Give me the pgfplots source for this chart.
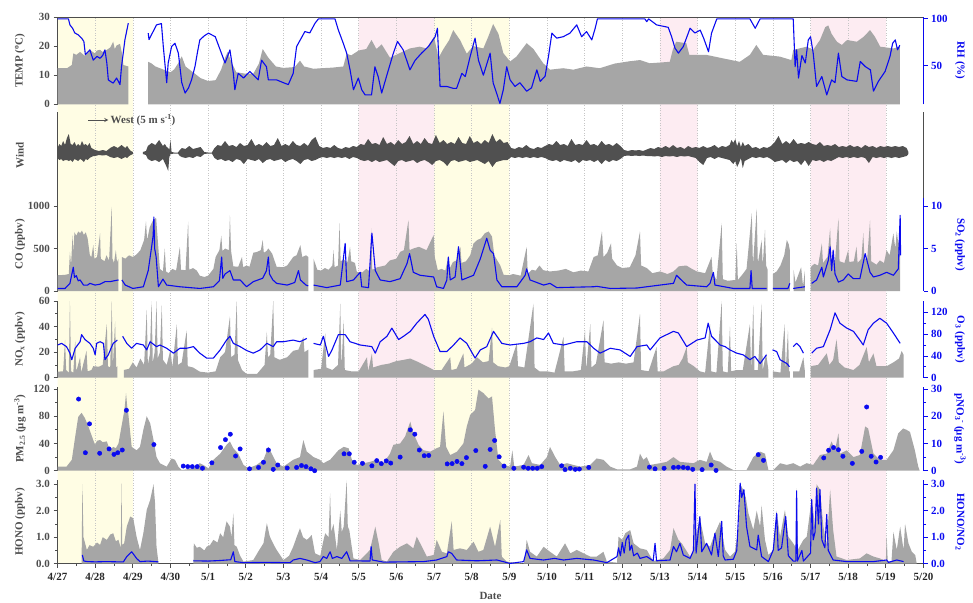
\documentclass[border=0pt]{standalone}
\usepackage{fontspec}
\setmainfont{Liberation Serif}
\usepackage{pgfplots}
\usepackage{pgfplotstable}
\pgfplotsset{compat=1.18}
\definecolor{axg}{HTML}{4D4D4D}
\definecolor{areag}{HTML}{A6A6A6}
\definecolor{windg}{HTML}{505050}
\definecolor{myblue}{HTML}{0A0AF0}
\definecolor{ysh}{HTML}{FFFDE4}
\definecolor{psh}{HTML}{FDECF2}
\newcommand{\fs}{\bfseries\fontsize{11}{13}\selectfont}
\pgfplotsset{
  P/.style={scale only axis, width=866pt, xmin=0, xmax=23, clip=true,
    scaled y ticks=false,
    tick align=outside, major tick length=4pt, minor tick length=2.5pt,
    /pgf/number format/assume math mode=true, /pgf/number format/1000 sep={},
    tick label style={font=\fs}},
  NX/.style={axis x line=none, xtick=\empty},
  L/.style={P, axis y line*=left, axis line style={axg, line width=0.9pt},
    tick style={axg, line width=0.8pt}, yticklabel style={text=axg},
    every axis y label/.style={at={(axis description cs:-0.0433,0.5)}, rotate=90, anchor=center, font=\fs, text=axg}},
  R/.style={P, NX, axis y line*=right, axis line style={myblue, line width=0.9pt},
    tick style={myblue, line width=0.8pt}, yticklabel style={text=myblue},
    every axis y label/.style={at={(axis description cs:1.0421,0.5)}, rotate=-90, anchor=center, font=\fs, text=myblue}},
  G/.style={fill=areag, draw=none},
  B/.style={myblue, line width=1.1pt, mark=none, line join=round},
}
\pgfplotstableread[row sep=\\]{
d u l\\
0.0 50 40\\ 0.05 54 38\\ 0.1 52 39\\ 0.15 57 37\\ 0.2 53 38\\ 0.25 60 38\\ 0.3 64 37\\ 0.35 54 38\\ 0.4 53 36\\ 0.45 56 39\\
0.5 52 38\\ 0.55 54 37\\ 0.6 52 39\\ 0.65 57 38\\ 0.7 53 36\\ 0.75 54 39\\ 0.8 52 38\\ 0.85 55 40\\ 0.9 50 41\\ 0.95 49 42\\
1.0 48 42\\ 1.1 47 43\\ 1.2 48 42.5\\ 1.3 47 43\\ 1.4 50 41\\ 1.5 52 40\\ 1.6 50 41\\ 1.7 53 39\\ 1.8 50 41\\ 1.85 52 40\\
1.9 49 42\\ 1.95 47 43\\ 2.0 46 44\\
}\windA
\pgfplotstableread[row sep=\\]{
d u l\\
2.27 46 44\\ 2.35 47 43\\ 2.4 52 39\\ 2.5 55 37\\ 2.6 53 38\\ 2.7 58 36\\ 2.8 52 39\\ 2.85 54 35\\ 2.9 51 31\\ 2.94 50 27\\
2.97 48 41\\ 3.0 58 44\\ 3.03 46 44\\ 3.1 45.5 44.5\\ 3.2 45.5 44.5\\ 3.25 48 42\\ 3.3 50 41\\ 3.4 49 40\\ 3.5 52 41\\ 3.6 49 40\\
3.7 50 42\\ 3.8 51 41\\ 3.9 46 44\\ 4.0 45.5 44.5\\ 4.1 45.5 44.5\\ 4.17 50 40\\ 4.25 53 38\\ 4.35 52 39\\ 4.45 57 37\\ 4.55 52 38\\
4.65 53 36\\ 4.75 51 39\\ 4.85 55 38\\ 4.95 52 34\\ 5.05 53 39\\ 5.15 59 38\\ 5.25 52 37\\ 5.35 54 39\\ 5.45 52 35\\ 5.55 56 38\\
5.65 52 39\\ 5.75 53 37\\ 5.85 60 38\\ 5.95 52 39\\ 6.05 54 36\\ 6.15 52 38\\ 6.25 57 39\\ 6.35 53 37\\ 6.45 52 34\\ 6.55 55 38\\
6.65 52 39\\ 6.75 58 37\\ 6.85 61 38\\ 6.95 52 40\\ 7.05 50 41\\ 7.15 51 40\\ 7.25 50 41\\ 7.35 53 40\\ 7.45 50 41\\ 7.55 49 40\\
7.65 51 41\\ 7.75 50 39\\ 7.85 52 41\\ 7.95 51 40\\ 8.05 54 38\\ 8.15 53 37\\ 8.25 59 38\\ 8.35 54 36\\ 8.45 55 38\\ 8.55 53 36\\
8.65 61 37\\ 8.75 54 38\\ 8.85 56 35\\ 8.95 53 32\\ 9.05 58 37\\ 9.15 54 38\\ 9.25 56 36\\ 9.35 62 37\\ 9.45 54 38\\ 9.55 57 35\\
9.65 54 37\\ 9.75 60 38\\ 9.85 55 36\\ 9.95 54 33\\ 10.05 63 37\\ 10.15 55 38\\ 10.25 58 36\\ 10.35 54 32\\ 10.45 56 37\\ 10.55 54 38\\
10.65 61 36\\ 10.75 55 37\\ 10.85 54 38\\ 10.95 62 36\\ 11.05 55 37\\ 11.15 57 38\\ 11.25 54 36\\ 11.35 58 34\\ 11.45 55 37\\ 11.55 64 31\\
11.65 56 36\\ 11.75 59 37\\ 11.85 55 38\\ 11.95 56 38\\ 12.05 50 41\\ 12.15 49 40\\ 12.25 51 41\\ 12.35 50 40\\ 12.45 53 41\\ 12.55 50 40\\
12.65 49 41\\ 12.75 51 40\\ 12.85 50 41\\ 12.95 52 40\\ 13.05 54 38\\ 13.15 53 37\\ 13.25 57 38\\ 13.35 53 36\\ 13.45 54 38\\ 13.55 52 37\\
13.65 59 36\\ 13.75 53 38\\ 13.85 54 35\\ 13.95 53 38\\ 14.05 58 37\\ 14.15 53 38\\ 14.25 54 36\\ 14.35 52 38\\ 14.45 57 34\\ 14.55 53 38\\
14.65 54 36\\ 14.75 52 38\\ 14.85 55 37\\ 14.95 52 39\\ 15.05 48 42\\ 15.15 47 42.5\\ 15.25 48 42\\ 15.35 47.5 42.5\\ 15.45 48 42\\ 15.55 47 42.5\\
15.65 48.5 42\\ 15.75 50 42\\ 15.85 49 41.5\\ 15.95 51 42\\ 16.05 50 41\\ 16.15 52 42\\ 16.25 50 41.5\\ 16.35 53 42\\ 16.45 50 41\\ 16.55 51 42\\
16.65 49 41.5\\ 16.75 52 42\\ 16.85 50 41\\ 16.95 51 40\\ 17.05 50 36\\ 17.15 52 33\\ 17.25 50 40\\ 17.35 51 41\\ 17.45 53 39\\ 17.55 50 41\\
17.65 52 40\\ 17.75 51 39\\ 17.85 53 38\\ 17.9 58 36\\ 17.95 55 34\\ 18.0 59 37\\ 18.05 52 31\\ 18.1 57 35\\ 18.15 51 40\\ 18.2 56 30\\
18.25 52 37\\ 18.35 54 39\\ 18.45 50 41\\ 18.55 51 40\\ 18.65 49 41\\ 18.75 51 40\\ 18.85 50 41\\ 18.95 52 39\\ 19.05 56 36\\ 19.15 62 37\\
19.25 54 38\\ 19.35 57 35\\ 19.45 54 38\\ 19.55 59 36\\ 19.65 54 37\\ 19.75 55 33\\ 19.85 54 38\\ 19.95 56 32\\ 20.05 54 38\\ 20.15 53 37\\
20.25 56 38\\ 20.35 52 36\\ 20.45 53 38\\ 20.55 52 37\\ 20.65 54 39\\ 20.75 51 41\\ 20.85 52 40\\ 20.95 51 41\\ 21.05 53 40\\ 21.15 51 41\\
21.25 52 40\\ 21.35 50 41\\ 21.45 53 40\\ 21.55 51 35\\ 21.65 52 41\\ 21.75 50 40\\ 21.85 52 41\\ 21.95 51 40\\ 22.05 52 41\\ 22.15 51 40\\
22.25 52 41\\ 22.35 51 40\\ 22.45 52 41\\ 22.55 50 42\\ 22.6 46 44\\
}\windB
\begin{document}
\begin{tikzpicture}
\path[use as bounding box] (0,0) rectangle (973pt,-602pt);
% background shading and day lines
\begin{axis}[scale only axis, width=866pt, height=546.7pt, at={(57.5pt,-17pt)}, anchor=north west,
  xmin=0, xmax=23, ymin=0, ymax=1, hide axis]
\addplot[fill=ysh, draw=none] coordinates {(0,0) (0,1) (2,1) (2,0)} \closedcycle;
\addplot[fill=ysh, draw=none] coordinates {(10,0) (10,1) (12,1) (12,0)} \closedcycle;
\addplot[fill=psh, draw=none] coordinates {(8,0) (8,1) (10,1) (10,0)} \closedcycle;
\addplot[fill=psh, draw=none] coordinates {(16,0) (16,1) (17,1) (17,0)} \closedcycle;
\addplot[fill=psh, draw=none] coordinates {(20,0) (20,1) (22,1) (22,0)} \closedcycle;
\addplot[ycomb, mark=none, gray!45, line width=0.5pt, dash pattern=on 1pt off 1.5pt] coordinates {(1,1) (2,1) (3,1) (4,1) (5,1) (6,1) (7,1) (8,1) (9,1) (10,1) (11,1) (12,1) (13,1) (14,1) (15,1) (16,1) (17,1) (18,1) (19,1) (20,1) (21,1) (22,1)};
\end{axis}
% ---------- panel 1: TEMP / RH
\begin{axis}[L, height=87.3pt, at={(57.5pt,-17pt)}, anchor=north west, axis x line*=top, xtick=\empty,
  ymin=0, ymax=30, ytick={0,10,20,30}, ylabel={TEMP (\textsuperscript{o}C)}]
\addplot[G] coordinates {(0,12.4) (0.25,12.4) (0.3,12.8) (0.38,13.5) (0.42,17.5) (0.5,17) (0.6,18) (0.72,16.7) (0.8,17.5) (0.86,18.7) (0.99,17.5) (1.05,18.5) (1.13,18.7) (1.2,18) (1.31,18.7) (1.4,19.5) (1.48,21.5) (1.52,19) (1.57,20.2) (1.66,20.8) (1.72,17) (1.75,13.5) (1.88,13)} \closedcycle;
\addplot[G] coordinates {(2.41,14.6) (2.5,14) (2.6,13) (2.8,12) (3.0,11) (3.1,12) (3.2,14) (3.3,16.5) (3.4,13) (3.6,11) (3.8,9) (4.0,8) (4.2,8.3) (4.35,12) (4.45,16) (4.52,18) (4.6,15) (4.75,11) (5.0,10.5) (5.2,10.5) (5.35,14) (5.45,19) (5.6,16) (5.8,13) (6.0,12.5) (6.3,12.8) (6.44,15) (6.55,13) (6.8,12.2) (7.0,12.4) (7.3,12.6) (7.59,13) (7.68,17.4) (7.8,16.8) (8.0,18.5) (8.2,19) (8.34,22.1) (8.47,19) (8.61,20.6) (8.83,16) (9.09,17.6) (9.36,19.2) (9.62,19.8) (9.8,19.2) (10.0,23.2) (10.12,16) (10.25,19) (10.4,22) (10.51,25.5) (10.69,22.1) (10.87,17.4) (11.04,20) (11.31,19.2) (11.44,23.2) (11.57,27.6) (11.71,24.2) (11.84,17.6) (12.02,14.7) (12.19,16.4) (12.46,21) (12.64,19) (12.9,14.1) (13.08,11.9) (13.43,12.4) (13.7,11.9) (14.05,13) (14.4,12.4) (14.8,14) (15.2,14.8) (15.47,15.2) (15.73,14.1) (16.26,14.6) (16.34,18.7) (16.43,21.5) (16.7,21) (16.78,17) (17.23,17) (17.67,15.8) (18.12,14.6) (18.39,17) (18.56,20.4) (18.74,17) (19.18,16.4) (19.49,15.2) (19.54,18.7) (19.9,19.8) (20.07,18.7) (20.25,22.1) (20.39,26.5) (20.47,27.1) (20.56,24.2) (20.7,21.5) (20.83,20.4) (20.97,22.1) (21.23,21.5) (21.41,23.2) (21.58,25.5) (21.71,23.2) (21.85,19.8) (22.2,19.2) (22.37,19.8)} \closedcycle;
\end{axis}
\begin{axis}[R, height=87.3pt, at={(57.5pt,-17pt)}, anchor=north west,
  ymin=9, ymax=102, ytick={50,100}, ylabel={RH (\%)}]
\addplot[B] coordinates {(0,100) (0.29,100) (0.33,93.6) (0.4,90) (0.46,85) (0.55,83) (0.64,79.5) (0.7,76) (0.74,62) (0.78,63.5) (0.86,67) (0.95,56) (1.05,60) (1.13,58) (1.2,61) (1.26,67) (1.31,53) (1.35,35) (1.42,33) (1.48,31.6) (1.57,37) (1.66,30) (1.7,49) (1.79,77.6) (1.88,95.4)};
\addplot[B] coordinates {(2.41,84.8) (2.43,78) (2.52,85) (2.63,93.6) (2.76,95) (2.81,70.5) (2.87,45) (2.9,32) (2.94,53) (3.03,70.5) (3.12,74) (3.21,63.5) (3.3,32) (3.39,21) (3.48,26.5) (3.56,35) (3.65,49) (3.72,65) (3.78,77.6) (3.9,82) (4.01,84.8) (4.19,81) (4.32,67) (4.45,53) (4.58,67) (4.67,42) (4.71,24.5) (4.8,42) (4.94,37) (5.11,44) (5.33,35) (5.42,56) (5.55,49) (5.6,35) (5.82,35) (6.0,32) (6.13,30) (6.26,42) (6.35,70.5) (6.57,86.5) (6.7,85) (6.84,95.4) (6.93,100) (7.37,100) (7.46,88) (7.59,74) (7.68,63.5) (7.77,45.7) (7.86,24.5) (7.99,37) (8.08,24.5) (8.17,19) (8.34,19) (8.43,49) (8.52,38) (8.61,21) (8.74,39) (8.92,63.5) (9.03,76) (9.18,67) (9.36,45.7) (9.5,56) (9.67,63.5) (9.85,70.5) (10.03,81) (10.09,90) (10.16,28) (10.34,28) (10.51,26) (10.6,26) (10.74,42) (10.83,38.6) (10.96,60) (11.09,79.5) (11.18,56) (11.31,40) (11.49,63.5) (11.57,32) (11.75,10) (11.84,24.5) (11.93,49) (12.02,35) (12.15,28) (12.28,32) (12.46,23) (12.59,26.5) (12.73,45.7) (12.82,33.4) (12.95,39) (13.04,60) (13.13,84.8) (13.26,79.5) (13.43,81) (13.61,84.8) (13.79,93.6) (13.92,81) (14.05,86.5) (14.19,77.6) (14.28,90) (14.34,100) (15.6,100) (15.65,97) (15.7,100) (15.8,97) (15.91,93.6) (16.22,91) (16.31,81) (16.4,68.8) (16.49,63.5) (16.62,70.5) (16.8,90) (16.93,85) (17.07,88) (17.16,79.5) (17.29,65) (17.37,84.8) (17.51,100) (18.39,100) (18.53,90) (18.66,100) (19.54,100) (19.59,49) (19.63,67) (19.68,37) (19.77,61) (19.86,53) (19.94,77.6) (20.0,81) (20.07,63.5) (20.16,28) (20.3,38.6) (20.43,19) (20.56,35) (20.65,32) (20.74,63.5) (20.83,38.6) (20.97,35) (21.23,33.4) (21.32,54.6) (21.46,49) (21.59,45.7) (21.67,23) (21.8,33.4) (21.98,44) (22.11,60) (22.18,74) (22.25,77.6) (22.31,67) (22.37,72)};
\end{axis}
% ---------- panel 2: Wind (two axes: one per data segment)
\begin{axis}[P, NX, height=86pt, at={(57.5pt,-112pt)}, anchor=north west, axis y line*=left, ytick=\empty,
  axis line style={axg, line width=0.9pt}, ymin=0, ymax=86, ylabel={Wind}, stack plots=y,
  every axis y label/.style={at={(axis description cs:-0.0433,0.5)}, rotate=90, anchor=center, font=\fs, text=axg}]
\addplot[draw=none, mark=none] table[x=d, y=l] {\windA};
\addplot[fill=windg, draw=none, mark=none] table[x=d, y expr=\thisrow{u}-\thisrow{l}] {\windA} \closedcycle;
\end{axis}
\begin{axis}[P, NX, height=86pt, at={(57.5pt,-112pt)}, anchor=north west, axis y line*=right, ytick=\empty,
  axis line style={axg, line width=0.9pt}, ymin=0, ymax=86, stack plots=y]
\addplot[draw=none, mark=none] table[x=d, y=l] {\windB};
\addplot[fill=windg, draw=none, mark=none] table[x=d, y expr=\thisrow{u}-\thisrow{l}] {\windB} \closedcycle;
\draw[-stealth, windg, line width=0.8pt] (axis cs:0.82,78) -- (axis cs:1.35,78) node[right, font=\fs, text=axg, inner sep=2pt] {West (5 m s\textsuperscript{-1})};
\end{axis}
% ---------- panel 3: CO / SO2
\begin{axis}[L, NX, height=93pt, at={(57.5pt,-198pt)}, anchor=north west,
  ymin=0, ymax=1094, ytick={0,500,1000}, ylabel={CO (ppbv)}]
\addplot[G] coordinates {(0,185) (0.2,190) (0.3,200) (0.33,460) (0.36,300) (0.4,660) (0.42,450) (0.45,690) (0.5,650) (0.55,700) (0.6,680) (0.65,710) (0.7,660) (0.75,690) (0.8,620) (0.86,420) (0.9,400) (0.95,540) (0.98,380) (1.05,400) (1.13,680) (1.15,380) (1.25,350) (1.3,420) (1.37,360) (1.44,990) (1.46,380) (1.5,330) (1.55,480) (1.58,340) (1.62,380)} \closedcycle;
\addplot[G] coordinates {(1.71,400) (1.8,380) (1.9,420) (2.0,400) (2.1,430) (2.2,480) (2.3,600) (2.35,820) (2.38,600) (2.45,750) (2.5,800) (2.55,840) (2.62,860) (2.68,500) (2.72,260) (2.8,230) (2.85,500) (2.88,230) (2.95,210) (3.05,260) (3.15,240) (3.25,520) (3.28,250) (3.4,245) (3.47,815) (3.5,250) (3.6,270) (3.7,240) (3.78,180) (3.9,165) (4.0,180) (4.14,260) (4.2,400) (4.3,480) (4.35,650) (4.38,470) (4.45,500) (4.55,480) (4.58,890) (4.61,470) (4.67,290) (4.8,285) (4.9,400) (4.93,280) (5.02,300) (5.1,285) (5.2,450) (5.3,460) (5.4,480) (5.45,600) (5.48,450) (5.55,470) (5.6,500) (5.7,440) (5.82,285) (6.0,280) (6.1,300) (6.26,400) (6.35,420) (6.45,540) (6.5,400) (6.6,420) (6.66,400)} \closedcycle;
\addplot[G] coordinates {(6.8,380) (6.9,250) (7.0,240) (7.1,270) (7.2,250) (7.3,300) (7.33,480) (7.36,280) (7.45,300) (7.49,800) (7.52,350) (7.6,370) (7.7,340) (7.77,520) (7.8,350) (7.9,330) (7.95,225) (8.1,220) (8.2,260) (8.3,230) (8.33,740) (8.36,250) (8.5,280) (8.7,300) (8.83,360) (9.0,380) (9.1,460) (9.2,480) (9.32,835) (9.35,480) (9.45,500) (9.6,520) (9.8,480) (9.99,660) (10.02,400) (10.1,245) (10.2,260) (10.3,240) (10.38,400) (10.41,260) (10.5,340) (10.6,360) (10.7,520) (10.73,330) (10.85,350) (10.96,420) (11.05,560) (11.15,600) (11.25,620) (11.35,680) (11.45,700) (11.54,640) (11.6,420) (11.76,300) (11.85,190) (12.0,185) (12.1,200) (12.3,180) (12.46,520) (12.49,200) (12.6,250) (12.7,240) (12.8,300) (12.9,245) (13.08,230) (13.3,240) (13.5,260) (13.7,220) (13.9,240) (14.1,230) (14.24,400) (14.35,420) (14.46,700) (14.5,400) (14.6,450) (14.7,560) (14.73,380) (14.86,300) (15.0,270) (15.2,280) (15.35,420) (15.47,700) (15.5,300) (15.65,270) (15.8,210) (16.0,230) (16.2,200) (16.36,230) (16.5,290) (16.7,300) (16.85,260) (16.98,230) (17.2,210) (17.37,400) (17.4,220) (17.5,130) (17.64,800) (17.67,140) (17.8,120) (18.0,130) (18.04,560) (18.07,130) (18.2,200) (18.3,260) (18.44,915) (18.47,300) (18.57,970) (18.6,320) (18.7,600) (18.73,300) (18.79,720) (18.82,300) (18.86,250)} \closedcycle;
\addplot[G] coordinates {(19.0,200) (19.1,230) (19.2,300) (19.3,420) (19.37,600) (19.42,550) (19.45,480)} \closedcycle;
\addplot[G] coordinates {(19.55,250) (19.6,100) (19.75,280) (19.8,60) (19.85,240)} \closedcycle;
\addplot[G] coordinates {(20.0,280) (20.1,320) (20.2,300) (20.3,560) (20.33,330) (20.45,400) (20.52,740) (20.55,380) (20.65,360) (20.74,855) (20.77,350) (20.9,330) (21.0,480) (21.03,340) (21.15,350) (21.22,520) (21.25,330) (21.35,380) (21.4,680) (21.43,400) (21.5,350) (21.58,830) (21.61,350) (21.75,310) (21.84,360) (21.95,330) (22.02,480) (22.1,420) (22.2,680) (22.25,500) (22.29,700) (22.33,560) (22.38,600)} \closedcycle;
\end{axis}
\begin{axis}[R, height=93pt, at={(57.5pt,-198pt)}, anchor=north west,
  ymin=0, ymax=10.94, ytick={0,5,10}, ylabel={SO\textsubscript{2} (ppbv)}]
\addplot[B] coordinates {(0,0.3) (0.2,0.3) (0.33,0.9) (0.42,2.8) (0.45,1.6) (0.5,1.8) (0.55,1.2) (0.6,1.3) (0.69,0.7) (0.8,0.7) (0.86,0.9) (1.0,0.7) (1.13,0.8) (1.26,1.1) (1.4,1.1) (1.5,1.2) (1.62,1.3)};
\addplot[B] coordinates {(1.71,1.3) (1.8,0.7) (2.0,0.3) (2.28,0.5) (2.41,2.4) (2.5,5.2) (2.54,6.5) (2.56,8.7) (2.58,5) (2.62,4) (2.68,0.5) (2.8,1.4) (2.9,0.7) (3.25,0.5) (3.78,0.3) (4.14,0.5) (4.3,1.2) (4.36,4.0) (4.39,1.5) (4.45,2.0) (4.58,2.4) (4.67,1.3) (4.85,1.3) (5.02,0.5) (5.2,1.1) (5.45,1.5) (5.55,2.4) (5.6,4.0) (5.63,2.0) (5.72,1.3) (5.82,0.9) (6.1,0.7) (6.3,1.0) (6.4,2.4) (6.45,1.3) (6.6,0.7) (6.66,0.6)};
\addplot[B] coordinates {(6.8,0.7) (7.15,0.4) (7.51,0.7) (7.64,5.6) (7.68,1.1) (7.86,1.3) (8.04,2.2) (8.08,0.5) (8.26,0.4) (8.35,6.8) (8.44,2.4) (8.57,1.3) (8.83,1.1) (9.1,1.45) (9.28,3.2) (9.35,4.4) (9.45,2.2) (9.63,1.85) (9.99,1.65) (10.07,0.5) (10.25,0.3) (10.34,1.3) (10.38,4.0) (10.43,1.3) (10.56,1.65) (10.65,5.2) (10.74,1.3) (11.05,1.85) (11.23,3.8) (11.4,6.2) (11.49,4.8) (11.58,4.4) (11.67,1.3) (11.8,0.5) (12.2,0.5) (12.42,1.85) (12.46,2.6) (12.55,1.3) (12.91,0.7) (13.08,0.9) (13.26,0.4) (14.24,0.5) (14.32,0.55) (14.68,0.3) (15.39,0.35) (15.65,0.5) (16.36,0.9) (16.44,1.85) (16.53,1.45) (16.71,0.7) (17.24,0.5) (17.33,0.9) (17.42,2.2) (17.46,0.7) (17.95,0.3) (18.39,0.3) (18.42,2.4) (18.45,0.3) (18.83,0.3)};
\addplot[B] coordinates {(19.0,0.3) (19.4,0.3) (19.45,0.9)};
\addplot[B] coordinates {(19.54,0.3) (19.85,0.5)};
\addplot[B] coordinates {(20.03,0.9) (20.16,1.3) (20.3,2.8) (20.34,1.65) (20.47,3.6) (20.52,5.2) (20.56,2.4) (20.6,4.8) (20.65,2.0) (20.74,1.05) (20.87,1.3) (21.0,2.0) (21.14,1.45) (21.31,1.45) (21.45,4.4) (21.58,2.2) (21.67,1.65) (21.84,1.85) (22.02,2.2) (22.2,1.85) (22.33,2.6) (22.38,8.9) (22.39,4.2)};
\end{axis}
% ---------- panel 4: NOx / O3
\begin{axis}[L, NX, height=76.7pt, at={(57.5pt,-301pt)}, anchor=north west,
  ymin=0, ymax=60, ytick={0,20,40,60}, minor tick num=1, ylabel={NO\textsubscript{x} (ppbv)}]
\addplot[G] coordinates {(0,4.7) (0.15,5) (0.2,29.5) (0.23,6) (0.3,4) (0.33,60) (0.36,5) (0.42,4) (0.47,29) (0.5,5) (0.6,16) (0.63,4) (0.77,21) (0.8,5) (0.9,6) (0.95,9) (1.1,8.6) (1.2,10) (1.31,42) (1.34,9) (1.4,8) (1.44,60) (1.47,9) (1.53,44) (1.56,8) (1.59,9)} \closedcycle;
\addplot[G] coordinates {(1.76,6) (1.9,7) (2.0,12) (2.1,8) (2.2,15) (2.3,10) (2.37,53) (2.4,10) (2.45,18) (2.5,60) (2.53,12) (2.58,20) (2.63,60) (2.66,15) (2.72,20) (2.77,57) (2.8,14) (2.9,10) (3.0,22) (3.05,8) (3.17,42) (3.2,10) (3.3,12) (3.43,37) (3.46,9) (3.6,8) (3.78,4.7) (4.0,4) (4.2,5) (4.32,16) (4.45,20) (4.58,48) (4.61,16) (4.7,18) (4.76,60) (4.79,14) (4.9,6) (5.02,3) (5.3,3) (5.5,10) (5.56,36) (5.59,16) (5.65,18) (5.73,60) (5.76,16) (5.9,14) (6.1,16) (6.26,21) (6.4,22) (6.53,32) (6.56,20) (6.66,22)} \closedcycle;
\addplot[G] coordinates {(6.8,6) (7.0,7) (7.11,35) (7.14,8) (7.3,6) (7.45,10) (7.51,58) (7.54,8) (7.6,45) (7.63,6) (7.8,5) (8.0,5) (8.22,16) (8.25,5) (8.35,19) (8.38,8) (8.6,10) (8.8,11) (9.0,13) (9.2,14) (9.37,15) (9.6,12) (9.8,9) (10.0,6) (10.2,6) (10.43,16) (10.46,6) (10.6,7) (10.78,19) (10.81,8) (11.0,11) (11.14,16) (11.3,12) (11.45,13) (11.54,39) (11.57,12) (11.7,9) (11.9,8) (12.0,9) (12.2,27) (12.23,9) (12.4,8) (12.64,58) (12.67,8) (12.8,5) (13.0,5) (13.2,4) (13.44,32) (13.47,5) (13.7,5) (13.9,6) (14.01,37) (14.04,6) (14.15,42) (14.18,8) (14.3,11) (14.5,45) (14.53,12) (14.7,11) (14.9,12) (15.1,11) (15.3,12) (15.47,50) (15.5,6) (15.7,5) (15.91,24) (15.94,5) (16.1,5) (16.36,9) (16.5,10) (16.6,15) (16.71,24) (16.74,12) (16.9,9) (17.06,5) (17.2,4) (17.33,42) (17.36,5) (17.5,4) (17.64,60) (17.67,5) (17.8,4) (17.86,40) (17.89,5) (18.04,6) (18.2,6) (18.39,42) (18.42,6) (18.48,57) (18.51,6) (18.6,6) (18.7,58) (18.73,6) (18.82,19) (18.88,6)} \closedcycle;
\addplot[G] coordinates {(19.0,5) (19.2,4) (19.31,42) (19.34,5) (19.4,37) (19.43,5) (19.45,5)} \closedcycle;
\addplot[G] coordinates {(19.54,5) (19.7,5) (19.81,16) (19.85,5)} \closedcycle;
\addplot[G] coordinates {(20.0,9) (20.2,10) (20.43,19) (20.5,10) (20.6,14) (20.69,30) (20.75,12) (20.9,8) (21.14,6) (21.3,10) (21.49,24) (21.55,12) (21.67,19) (21.75,9) (22.02,9) (22.2,12) (22.35,15) (22.42,21) (22.47,18)} \closedcycle;
\end{axis}
\begin{axis}[R, height=76.7pt, at={(57.5pt,-301pt)}, anchor=north west,
  ymin=0, ymax=140.7, ytick={0,40,80,120}, minor tick num=1, ylabel={O\textsubscript{3} (ppbv)}]
\addplot[B] coordinates {(0,60) (0.11,63) (0.24,57) (0.33,45) (0.38,33) (0.47,54) (0.6,66) (0.64,79) (0.73,70) (0.86,63) (0.95,54) (1.0,42) (1.04,63) (1.13,66) (1.22,63) (1.26,33) (1.35,42) (1.44,57) (1.48,63) (1.59,69)};
\addplot[B] coordinates {(1.73,76) (1.84,63) (1.97,54) (2.1,63) (2.28,60) (2.37,51) (2.46,66) (2.63,57) (2.72,60) (2.9,54) (3.08,45) (3.25,54) (3.43,54) (3.61,57) (3.78,45) (3.96,36) (4.14,36) (4.32,51) (4.49,69) (4.58,76) (4.67,63) (4.85,57) (5.02,50) (5.2,45) (5.38,51) (5.56,63) (5.73,57) (5.82,66) (6.0,66) (6.26,69) (6.44,66) (6.62,72)};
\addplot[B] coordinates {(6.8,63) (6.98,60) (7.06,76) (7.2,39) (7.29,51) (7.46,79) (7.64,79) (7.77,66) (8.04,60) (8.35,57) (8.44,45) (8.57,66) (8.75,76) (8.88,91) (9.06,70) (9.19,76) (9.37,85) (9.54,100) (9.76,116) (9.85,107) (9.99,76) (10.16,48) (10.34,48) (10.52,60) (10.69,73) (10.87,63) (11.09,36) (11.23,51) (11.4,57) (11.58,85) (11.67,76) (11.8,63) (12.02,60) (12.38,63) (12.55,66) (12.73,73) (12.91,70) (13.04,82) (13.17,63) (13.44,60) (13.79,66) (14.06,66) (14.24,54) (14.41,45) (14.68,54) (14.94,51) (15.21,39) (15.39,57) (15.65,60) (15.74,51) (16.0,73) (16.36,85) (16.49,82) (16.71,57) (16.98,69) (17.2,73) (17.28,100) (17.37,76) (17.6,60) (17.73,57) (17.86,51) (18.04,45) (18.21,42) (18.39,33) (18.52,39) (18.66,26) (18.83,42)};
\addplot[B] coordinates {(18.99,51) (19.1,48) (19.19,33) (19.37,26) (19.44,20)};
\addplot[B] coordinates {(19.54,57) (19.63,63) (19.72,57) (19.81,45)};
\addplot[B] coordinates {(20.03,45) (20.16,54) (20.34,57) (20.52,88) (20.65,119) (20.78,100) (20.96,91) (21.14,85) (21.31,69) (21.4,60) (21.53,88) (21.67,100) (21.84,109) (22.02,100) (22.2,82) (22.38,63)};
\end{axis}
% ---------- panel 5: PM2.5 / pNO3
\begin{axis}[L, NX, height=83.7pt, at={(57.5pt,-387pt)}, anchor=north west,
  ymin=0, ymax=122.9, ytick={0,40,80,120}, minor tick num=1, ylabel={PM\textsubscript{2.5} (μg m\textsuperscript{-3})}]
\addplot[G] coordinates {(0,6) (0.24,6) (0.38,16) (0.47,50) (0.55,79) (0.64,85) (0.73,77) (0.82,65) (0.95,45) (1.0,38) (1.05,44) (1.13,45) (1.2,42) (1.31,43) (1.39,30) (1.48,35) (1.55,33) (1.62,40) (1.7,65) (1.78,90) (1.82,114) (1.85,95) (1.88,84) (1.97,35) (2.1,30) (2.19,35) (2.28,60) (2.37,80) (2.46,70) (2.55,45) (2.63,20) (2.72,11) (2.9,6) (3.03,18) (3.12,16) (3.21,6) (3.3,1) (3.61,3.5) (3.78,11) (3.87,8.5) (4.01,3.5) (4.14,16) (4.32,25) (4.49,38) (4.58,43) (4.67,33) (4.8,25) (4.94,8.5) (5.07,3.5) (5.29,8.5) (5.47,16) (5.6,35) (5.69,25) (5.82,11) (6.0,6) (6.26,16) (6.44,20) (6.53,45) (6.62,28) (6.8,20) (6.97,16) (7.06,11) (7.24,16) (7.46,30) (7.6,35) (7.73,33) (7.82,16) (7.95,8.5) (8.3,13) (8.48,16) (8.66,11) (8.83,25) (8.92,38) (9.1,40) (9.23,50) (9.37,72) (9.45,55) (9.59,38) (9.72,30) (9.9,28) (10.07,33) (10.16,35) (10.25,87) (10.32,35) (10.43,23) (10.61,28) (10.78,40) (10.87,65) (10.96,82) (11.09,89) (11.18,119) (11.31,114) (11.45,106) (11.54,109) (11.62,60) (11.71,16) (11.84,8.5) (12.02,6) (12.08,30) (12.13,6) (12.38,8.5) (12.51,23) (12.6,11) (12.82,8.5) (13.0,20) (13.08,35) (13.22,20) (13.35,8.5) (13.53,11) (13.7,8.5) (13.88,6) (14.15,8.5) (14.32,18) (14.5,16) (14.68,6) (14.86,2) (15.21,2) (15.39,6) (15.47,25) (15.56,16) (15.65,20) (15.74,8.5) (16.0,11) (16.18,13) (16.36,20) (16.53,13) (16.89,11) (17.06,16) (17.24,13) (17.33,28) (17.42,16) (17.6,13) (17.77,6) (17.95,1) (18.3,1) (18.48,20) (18.66,28) (18.79,25) (18.88,1) (19.01,1) (19.19,11) (19.37,8.5) (19.54,11) (19.72,6) (19.9,11) (20.07,8.5) (20.25,23) (20.43,25) (20.56,43) (20.65,30) (20.74,55) (20.78,25) (20.96,30) (21.14,20) (21.31,23) (21.45,65) (21.53,62) (21.67,25) (21.84,16) (22.02,16) (22.2,30) (22.33,55) (22.46,62) (22.55,60) (22.64,57) (22.77,30) (22.86,6) (22.9,0)} \closedcycle;
\end{axis}
\begin{axis}[R, height=83.7pt, at={(57.5pt,-387pt)}, anchor=north west,
  ymin=0, ymax=30.73, ytick={0,10,20,30}, minor tick num=1, ylabel={pNO\textsubscript{3}\textsuperscript{-} (μg m\textsuperscript{-3})}]
\addplot[only marks, mark=*, mark size=2.2pt, myblue] coordinates {(0.56,26.3) (0.74,6.6) (0.85,17.2) (1.12,6.4) (1.37,8.0) (1.5,6.0) (1.6,6.6) (1.72,7.6) (1.83,22.2) (2.56,9.6) (3.34,1.7) (3.46,1.5) (3.58,1.5) (3.71,1.5) (3.85,0.9) (4.1,2.9) (4.33,8.5) (4.46,11.4) (4.59,13.4) (4.73,5.4) (4.85,8.0) (5.1,0.7) (5.34,1.2) (5.47,3.1) (5.6,7.6) (5.73,0.5) (5.85,2.1) (6.1,1.0) (6.35,1.2) (6.48,1.9) (6.6,1.5) (6.73,0.7) (6.83,0) (7.61,6.2) (7.75,6.2) (7.88,3.1) (8.1,2.7) (8.35,1.8) (8.48,3.7) (8.6,2.6) (8.73,3.6) (8.85,2.8) (9.1,5.0) (9.37,15) (9.49,13.4) (9.61,7.6) (9.74,5.5) (9.86,5.6) (10.35,2.5) (10.48,2.6) (10.61,3.4) (10.74,2.6) (10.86,4.8) (11.11,7.4) (11.36,1.6) (11.49,7.8) (11.61,11.1) (11.73,5.1) (11.86,1.7) (12.12,0.9) (12.38,1.3) (12.5,0.9) (12.62,0.9) (12.74,0.9) (12.86,1.5) (13.39,1.8) (13.48,0.4) (13.62,0.9) (13.75,0.5) (13.86,0.6) (14.11,1.2) (15.72,1.3) (15.87,0.7) (16.11,0.9) (16.36,1.2) (16.49,1.3) (16.62,1.2) (16.74,1.0) (16.87,0.5) (17.12,0.4) (17.36,2.1) (17.49,0.1) (18.61,5.9) (18.75,3.8) (20.35,4.7) (20.48,7.5) (20.61,8.5) (20.74,7.7) (20.86,5.3) (21.11,2.7) (21.36,7.1) (21.49,23.4) (21.61,5.3) (21.74,3.2) (21.86,4.9)};
\end{axis}
% ---------- panel 6: HONO / HONO/NO2
\begin{axis}[L, height=83.7pt, at={(57.5pt,-480pt)}, anchor=north west, axis x line*=bottom,
  xtick={0,1,...,23}, xticklabels={4/27,4/28,4/29,4/30,5/1,5/2,5/3,5/4,5/5,5/6,5/7,5/8,5/9,5/10,5/11,5/12,5/13,5/14,5/15,5/16,5/17,5/18,5/19,5/20},
  xticklabel style={text=black!85, yshift=-2pt}, xlabel={Date}, xlabel style={font=\fs, text=axg, yshift=-5pt},
  ymin=0, ymax=3.16, ytick={0,1,2,3}, minor tick num=1,
  yticklabel style={/pgf/number format/.cd, fixed, fixed zerofill, precision=1},
  ylabel={HONO (ppbv)}]
\addplot[G] coordinates {(0.64,0) (0.66,3.0) (0.69,1.0) (0.78,0.52) (0.85,0.7) (0.95,0.64) (1.05,0.8) (1.13,0.71) (1.2,1.0) (1.31,0.9) (1.4,1.1) (1.48,1.15) (1.55,0.85) (1.62,0.9) (1.68,0.6) (1.7,3.04) (1.72,0.7) (1.77,0.77) (1.84,1.4) (1.93,1.78) (2.01,1.72) (2.1,1.02) (2.19,0.52) (2.28,1.15) (2.37,2.03) (2.46,2.4) (2.55,3.0) (2.59,2.3) (2.63,0.64) (2.68,0.05)} \closedcycle;
\addplot[G] coordinates {(3.61,0) (3.62,0.77) (3.7,0.6) (3.78,0.64) (3.9,0.5) (3.96,0.64) (4.05,0.7) (4.14,0.9) (4.25,0.8) (4.32,1.15) (4.4,1.0) (4.49,1.6) (4.58,1.4) (4.62,1.0) (4.67,1.9) (4.7,0.7) (4.76,0.64) (4.85,0.3) (4.94,0.08) (5.2,0.14) (5.35,0.5) (5.47,0.77) (5.56,1.53) (5.64,1.02) (5.75,0.7) (5.82,0.52) (6.0,0.14) (6.15,0.3) (6.26,0.64) (6.35,1.0) (6.44,1.34) (6.52,1.0) (6.62,0.9) (6.7,1.0) (6.75,1.09) (6.84,0.39) (6.98,0.3) (7.05,0.8) (7.11,1.15) (7.2,1.0) (7.24,2.66) (7.27,1.2) (7.33,1.5) (7.42,0.52) (7.51,2.0) (7.55,1.2) (7.6,1.4) (7.68,3.15) (7.71,1.4) (7.75,1.27) (7.86,0.2) (8.04,0.14) (8.3,0.52) (8.44,1.4) (8.53,0.77) (8.61,0.14) (8.75,0.08) (8.92,0.45) (9.1,0.64) (9.28,0.77) (9.45,0.58) (9.54,1.02) (9.68,0.64) (9.81,0.27) (9.99,0.33) (10.07,0.9) (10.21,0.45) (10.34,0.39) (10.47,1.6) (10.52,0.52) (10.69,0.58) (10.87,0.52) (11.05,0.83) (11.18,0.45) (11.31,0.52) (11.49,1.4) (11.62,0.64) (11.76,1.65) (11.8,0.27) (11.93,0.08) (12.38,0.0) (12.42,0.3) (12.46,0.9) (12.55,0.45) (12.73,0.27) (12.91,0.64) (13.08,0.45) (13.26,0.27) (13.48,0.77) (13.62,0.39) (13.79,0.52) (13.97,0.39) (14.15,0.27) (14.32,0.27) (14.5,0.45) (14.59,0.08) (14.86,0.04) (14.9,1.02) (15.0,0.9) (15.08,1.15) (15.21,1.27) (15.3,0.77) (15.47,0.58) (15.65,0.52) (15.82,0.1) (16.09,0.2) (16.27,0.52) (16.36,1.34) (16.49,0.9) (16.58,0.77) (16.8,0.27) (16.91,0.5) (16.93,3.04) (16.96,1.02) (17.06,1.72) (17.2,0.77) (17.33,0.64) (17.46,1.15) (17.6,1.6) (17.73,0.52) (17.86,0.27) (17.99,0.45) (18.1,1.5) (18.13,3.0) (18.21,2.8) (18.28,2.5) (18.35,1.9) (18.48,1.28) (18.57,2.0) (18.66,1.4) (18.7,2.2) (18.79,0.9) (18.88,0.33) (19.01,0.52) (19.1,2.0) (19.19,1.02) (19.32,2.03) (19.41,1.02) (19.54,0.77) (19.61,0.6) (19.63,2.85) (19.66,0.52) (19.81,0.9) (19.9,1.02) (20.03,2.47) (20.12,1.4) (20.16,3.0) (20.25,2.8) (20.34,1.4) (20.43,0.71) (20.52,2.8) (20.6,1.28) (20.69,0.27) (20.96,0.14) (21.31,0.2) (21.49,0.39) (21.67,0.27) (21.84,0.2) (22.0,0.1) (22.02,1.08) (22.05,0.08) (22.15,0.1) (22.2,1.2) (22.29,0.52) (22.38,1.4) (22.47,0.52) (22.51,1.5) (22.6,0.77) (22.69,0.45) (22.78,0.33) (22.82,0)} \closedcycle;
\end{axis}
\begin{axis}[R, height=83.7pt, at={(57.5pt,-480pt)}, anchor=north west,
  ymin=0, ymax=3.16, ytick={0,1,2,3}, minor tick num=1,
  yticklabel style={/pgf/number format/.cd, fixed, fixed zerofill, precision=1},
  ylabel={HONO/NO\textsubscript{2}}]
\addplot[B] coordinates {(0.66,0.33) (0.7,0.1) (0.8,0.08) (1.0,0.07) (1.3,0.08) (1.62,0.07) (1.75,0.07) (1.84,0.27) (1.93,0.4) (1.97,0.45) (2.05,0.3) (2.1,0.2) (2.19,0.08) (2.4,0.1) (2.68,0.07)};
\addplot[B] coordinates {(3.61,0.11) (4.0,0.1) (4.3,0.12) (4.6,0.15) (4.67,0.45) (4.71,0.08) (4.94,0.04) (5.5,0.05) (6.18,0.04) (6.26,0.14) (6.44,0.2) (6.62,0.14) (6.75,0.08) (6.84,0.04) (6.97,0.08) (7.06,0.27) (7.15,0.2) (7.24,0.45) (7.3,0.2) (7.42,0.27) (7.55,0.2) (7.68,0.45) (7.77,0.11) (8.3,0.1) (8.33,0.65) (8.36,0.14) (8.66,0.06) (9.72,0.08) (10.07,0.14) (10.34,0.27) (10.38,0.45) (10.47,0.39) (10.6,0.14) (11.14,0.11) (11.67,0.14) (12.02,0.01) (12.38,0.08) (12.46,0.52) (12.55,0.2) (12.91,0.14) (13.2,0.2) (13.44,0.14) (13.79,0.2) (14.24,0.14) (14.59,0.04) (14.86,0.27) (14.9,0.6) (14.95,0.3) (15.0,0.8) (15.05,0.4) (15.1,0.9) (15.17,1.08) (15.2,0.5) (15.25,0.7) (15.3,0.3) (15.4,0.4) (15.47,0.2) (15.65,0.27) (15.82,0.11) (15.87,0.77) (15.91,0.11) (16.27,0.14) (16.36,0.65) (16.44,0.45) (16.53,0.77) (16.62,0.33) (16.8,0.2) (16.89,0.5) (16.93,3.0) (16.96,0.4) (17.06,1.78) (17.11,0.45) (17.24,0.77) (17.37,0.33) (17.46,1.15) (17.55,0.27) (17.64,1.6) (17.68,0.3) (17.73,0.14) (17.95,0.17) (18.04,0.5) (18.13,3.04) (18.17,2.5) (18.23,2.8) (18.3,1.4) (18.39,0.65) (18.57,0.52) (18.61,1.08) (18.7,0.27) (18.88,0.08) (19.01,0.52) (19.1,1.9) (19.14,0.5) (19.23,0.6) (19.34,1.78) (19.41,0.3) (19.54,0.1) (19.61,0.1) (19.63,2.75) (19.65,0.1) (19.77,0.5) (19.81,0.1) (20.0,0.4) (20.03,2.42) (20.07,0.9) (20.12,1.2) (20.16,2.85) (20.21,1.5) (20.25,2.8) (20.3,0.9) (20.38,0.6) (20.43,1.86) (20.47,0.5) (20.6,0.14) (20.96,0.08) (21.67,0.08) (22.02,0.14) (22.07,0.05) (22.29,0.14) (22.47,0.08)};
\end{axis}
\end{tikzpicture}
\end{document}
